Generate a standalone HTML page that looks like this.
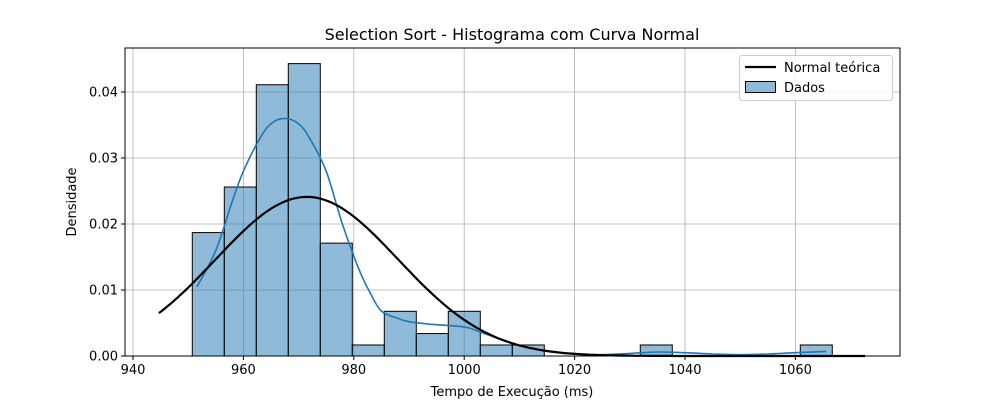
<!DOCTYPE html>
<html><head><meta charset="utf-8"><style>
body{margin:0;background:#fff;}
svg{display:block;font-family:"DejaVu Sans","Liberation Sans",sans-serif;}
</style></head><body>
<svg id="chart" width="1000" height="400"></svg>
<script>
const binStart = 950.74;
const binWidth = 5.797;
const binDensities = [0.0187,0.0256,0.0411,0.0443,0.0171,0.00167,0.00677,0.0034,0.00677,0.00167,0.00167,0,0,0,0.00167,0,0,0,0,0.00167];
const kdeX = [951.6,955,958,960,963,965,967.4,970,972,975,978,981,983,985,988,990,994,1000,1003,1006,1010,1015,1020,1025,1030,1035,1040,1045,1050,1055,1060,1065.6];
const kdeY = [0.0105,0.016,0.0235,0.028,0.033,0.0352,0.036,0.0352,0.033,0.028,0.0198,0.013,0.0095,0.0068,0.0057,0.0052,0.0048,0.0044,0.0036,0.0027,0.0016,0.0007,0.0003,0.0002,0.0004,0.0006,0.0005,0.0003,0.0002,0.0003,0.0005,0.0007];
const normMean = 971.5;
const normSd = 16.55;
const normRange = [944.7, 1072.6];
const xTicks = [940,960,980,1000,1020,1040,1060];
const yTicks = [0,0.01,0.02,0.03,0.04];

const L=125,R=900,T=48,B=356;
const X = v => 133 + (v-940)*5.52;
const Y = v => B - v*6600;
const NS="http://www.w3.org/2000/svg";
const svg=document.getElementById('chart');
function mk(tag,attrs,parent){const e=document.createElementNS(NS,tag);for(const k in attrs)e.setAttribute(k,attrs[k]);(parent||svg).appendChild(e);return e;}

xTicks.forEach(t=>{const g=mk('line',{x1:X(t),x2:X(t),y1:T,y2:B,stroke:'#b0b0b0','stroke-width':0.8});

});
yTicks.forEach(t=>{const g=mk('line',{x1:L,x2:R,y1:Y(t),y2:Y(t),stroke:'#b0b0b0','stroke-width':0.8});

});

binDensities.forEach((d,i)=>{ if(d<=0) return;
 const x0=X(binStart+i*binWidth), x1=X(binStart+(i+1)*binWidth);
 const r=mk('rect',{x:x0,y:Y(d),width:x1-x0,height:B-Y(d),fill:'rgba(31,119,180,0.5)',stroke:'#000','stroke-width':1});
 
 
});

// kde smoothed with Catmull-Rom
const pts=kdeX.map((x,i)=>[X(x),Y(kdeY[i])]);
let p='M'+pts[0][0].toFixed(1)+','+pts[0][1].toFixed(1);
for(let i=0;i<pts.length-1;i++){
 const p0=pts[Math.max(0,i-1)],p1=pts[i],p2=pts[i+1],p3=pts[Math.min(pts.length-1,i+2)];
 const c1=[p1[0]+(p2[0]-p0[0])/6,p1[1]+(p2[1]-p0[1])/6];
 const c2=[p2[0]-(p3[0]-p1[0])/6,p2[1]-(p3[1]-p1[1])/6];
 p+='C'+c1[0].toFixed(1)+','+c1[1].toFixed(1)+' '+c2[0].toFixed(1)+','+c2[1].toFixed(1)+' '+p2[0].toFixed(1)+','+p2[1].toFixed(1);
}
const k=mk('path',{d:p,fill:'none',stroke:'#1f77b4','stroke-width':1.6,'stroke-linejoin':'round'});



let q='';for(let i=0;i<=200;i++){const x=normRange[0]+(normRange[1]-normRange[0])*i/200;
 const y=Math.exp(-0.5*((x-normMean)/normSd)**2)/(normSd*Math.sqrt(2*Math.PI));
 q+=(i?'L':'M')+X(x).toFixed(1)+','+Y(y).toFixed(1);}
const n=mk('path',{d:q,fill:'none',stroke:'#000','stroke-width':2.2});



const f=mk('rect',{x:L,y:T,width:R-L,height:B-T,fill:'none',stroke:'#000','stroke-width':1});



xTicks.forEach(t=>{mk('line',{x1:X(t),x2:X(t),y1:B,y2:B+4,stroke:'#000'});
 const tx=mk('text',{x:X(t),y:B+18,'text-anchor':'middle','font-size':13});tx.textContent=t;
 
 });
yTicks.forEach(t=>{mk('line',{x1:L-4,x2:L,y1:Y(t),y2:Y(t),stroke:'#000'});
 const tx=mk('text',{x:L-7,y:Y(t)+4.5,'text-anchor':'end','font-size':13});
 tx.textContent=t.toFixed(2);
 
 });
</script>
<svg style="position:absolute;left:0;top:0" width="1000" height="400">
<text x="512" y="40" text-anchor="middle" font-size="16">Selection Sort - Histograma com Curva Normal</text>
<text x="512" y="396" text-anchor="middle" font-size="13">Tempo de Execução (ms)</text>
<text transform="translate(76,202) rotate(-90)" text-anchor="middle" font-size="13">Densidade</text>
<g>
<rect x="739.5" y="55.5" width="153" height="45" rx="3" fill="#fff" fill-opacity="0.85" stroke="#ccc"/>
<line x1="745" x2="776" y1="67" y2="67" stroke="#000" stroke-width="2.2"/>
<text x="784" y="72" font-size="13">Normal teórica</text>
<rect x="745.5" y="81.5" width="30" height="11" fill="rgba(31,119,180,0.5)" stroke="#000"/>
<text x="784" y="92" font-size="13">Dados</text>
</g>
</svg>
</body></html>
